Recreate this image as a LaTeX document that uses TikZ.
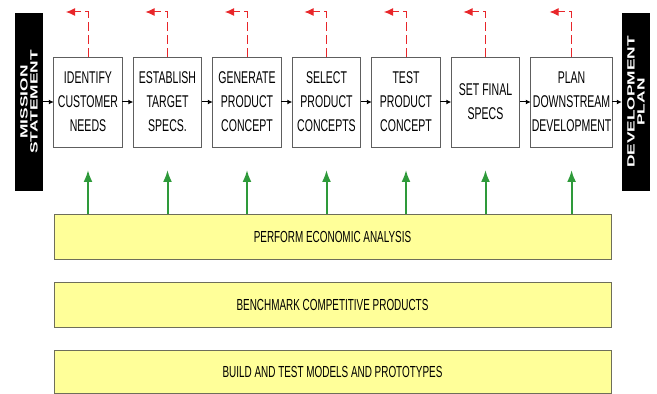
\documentclass[tikz,border=0pt]{standalone}
\usepackage{fontspec}
\setmainfont{Liberation Sans}[FakeStretch=0.62]
\newfontfamily\capfont{Liberation Sans}[FakeStretch=1.65]
\usetikzlibrary{arrows.meta,positioning}
\definecolor{Frame}{HTML}{5E5E5E}
\definecolor{Pad}{HTML}{FFFF99}
\definecolor{PadLine}{HTML}{6E6E5A}
\definecolor{Rework}{HTML}{E8262A}
\definecolor{Feed}{HTML}{2E9A3A}
\tikzset{
  stage/.style={draw=Frame,fill=white,line width=.9pt,outer sep=0pt,minimum width=68.5pt,minimum height=90pt,align=center,inner sep=1pt,font=\fontsize{17}{24}\selectfont},
  endcap/.style={fill=black,rotate=90,minimum width=178pt,minimum height=28pt,align=center,inner sep=0pt,text=white,font=\capfont\bfseries\fontsize{10.5}{10}\selectfont},
  pad/.style={draw=PadLine,fill=Pad,line width=.9pt,outer sep=0pt,minimum width=557pt,minimum height=45pt,align=center,inner sep=1pt,font=\fontsize{16}{24}\selectfont},
  flow/.style={-{Latex[length=5pt,width=5pt]},draw=black,line width=1pt},
  rework/.style={-{Latex[length=9pt,width=8pt]},draw=Rework,line width=1pt,dash pattern=on 9pt off 4pt},
  feed/.style={-{Latex[length=12pt,width=9pt]},draw=Feed,line width=2pt}
}
\begin{document}
\begin{tikzpicture}[x=1pt,y=1pt,node distance=11pt]
  \useasboundingbox (0,0) rectangle (657,394);
  \node[endcap] (mission) at (29,292) {MISSION\\STATEMENT};
  \node[endcap] (devplan) at (636,292) {DEVELOPMENT\\PLAN};
  \node[stage] (needs) at (88,292) {IDENTIFY\\CUSTOMER\\NEEDS};
  \node[stage,right=of needs] (specs) {ESTABLISH\\TARGET\\SPECS.};
  \node[stage,right=of specs] (generate) {GENERATE\\PRODUCT\\CONCEPT};
  \node[stage,right=of generate] (select) {SELECT\\PRODUCT\\CONCEPTS};
  \node[stage,right=of select] (test) {TEST\\PRODUCT\\CONCEPT};
  \node[stage,right=of test] (final) {SET FINAL\\SPECS};
  \node[stage,minimum width=80pt,right=of final] (plan) {PLAN\\DOWNSTREAM\\DEVELOPMENT};
  \node[pad] (econ) at (332.5,157.5) {PERFORM ECONOMIC ANALYSIS};
  \node[pad,below=23pt of econ] (bench) {BENCHMARK COMPETITIVE PRODUCTS};
  \node[pad,minimum height=43pt,below=23pt of bench] (build) {BUILD AND TEST MODELS AND PROTOTYPES};
  \foreach \a/\b in {mission/needs,needs/specs,specs/generate,generate/select,select/test,test/final,final/plan,plan/devplan}
    \draw[flow] (\a) -- (\b);
  \foreach \s in {needs,specs,generate,select,test,final,plan}{
    \draw[rework] (\s.north) |- ++(-22,45);
    \draw[feed] (\s |- econ.north) -- ++(0,44);
  }
\end{tikzpicture}
\end{document}
